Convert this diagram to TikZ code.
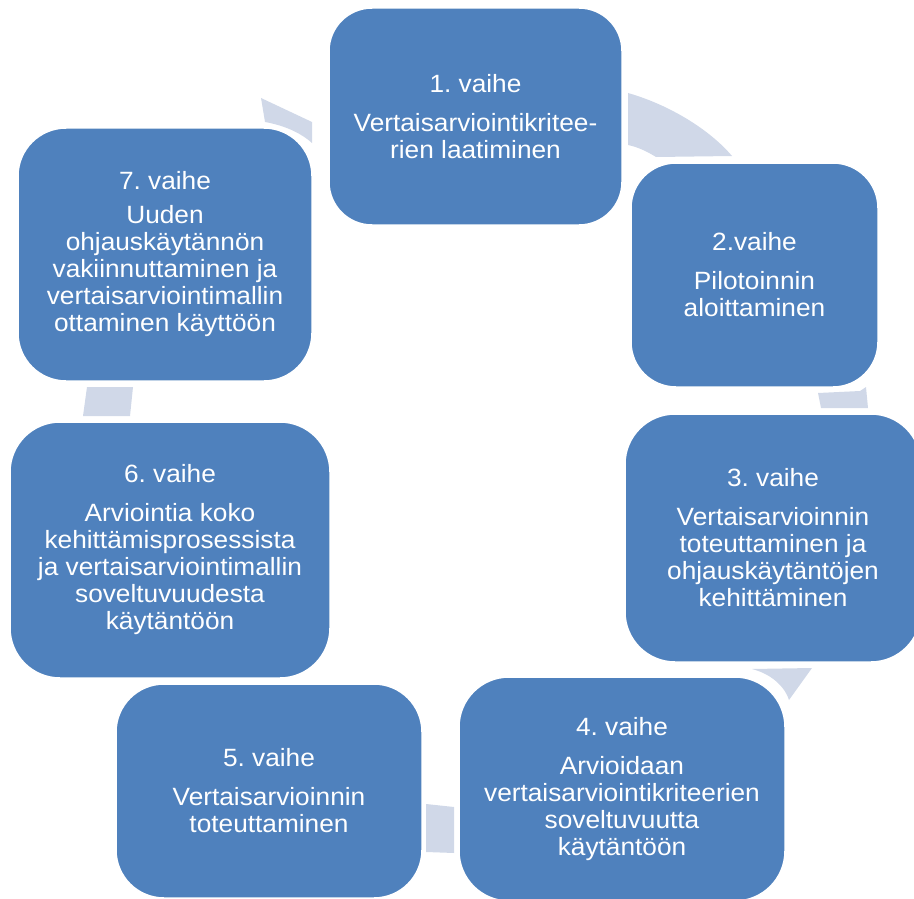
\documentclass[tikz,border=0pt]{standalone}
\usepackage{fontspec}
\setmainfont{Liberation Sans}[FakeStretch=1.05]
\definecolor{boxblue}{HTML}{4F81BD}
\definecolor{arrowgray}{HTML}{D0D8E8}
\begin{document}
\begin{tikzpicture}[x=1pt,y=-1pt,
  stage/.style={rectangle, fill=boxblue, draw=white, line width=1.5pt, text=white,
    align=center, font=\fontsize{25}{27}\selectfont\frenchspacing, inner sep=0pt},
  seg/.style={fill=arrowgray, draw=none}]
\useasboundingbox (0,0) rectangle (914,899);
% arrow segments of the cycle
\path[seg] (261,98) -- (265,122) -- (270,123) .. controls (288,127) and (302,134) .. (312,143) -- (312,122) -- cycle;
\path[seg] (628,93) .. controls (670,105) and (710,130) .. (732,156) -- (656,157) .. controls (648,152) and (638,147) .. (628,145) -- cycle;
\path[seg] (818,393) -- (860,391) -- (866,387) -- (868,408) -- (821,408) -- cycle;
\path[seg] (752,669) -- (812,668) -- (789,700) .. controls (786,690) and (775,675) .. (752,669) -- cycle;
\path[seg] (426,804) -- (454,807) -- (454,853) -- (426,852) -- cycle;
\path[seg] (87,387) -- (133,387) -- (130,416) -- (83,416) -- cycle;
% stages
\node[stage, minimum width=293pt, minimum height=217pt, rounded corners=43pt] (s1) at (475.5,116.5)
  {1. vaihe\\[12pt]Vertaisarviointikritee-\\rien laatiminen};
\node[stage, minimum width=247pt, minimum height=224pt, rounded corners=45pt] (s2) at (754.5,275)
  {2.vaihe\\[12pt]Pilotoinnin\\aloittaminen};
\node[stage, minimum width=296pt, minimum height=248pt, rounded corners=50pt] (s3) at (773,538)
  {3. vaihe\\[12pt]Vertaisarvioinnin\\toteuttaminen ja\\ohjauskäytäntöjen\\kehittäminen};
\node[stage, minimum width=326pt, minimum height=224pt, rounded corners=50pt] (s4) at (622,789)
  {4. vaihe\\[12pt]Arvioidaan\\vertaisarviointikriteerien\\soveltuvuutta\\käytäntöön};
\node[stage, minimum width=306pt, minimum height=214pt, rounded corners=48pt] (s5) at (269,791)
  {5. vaihe\\[12pt]Vertaisarvioinnin\\toteuttaminen};
\node[stage, minimum width=320pt, minimum height=256pt, rounded corners=50pt] (s6) at (170,550)
  {6. vaihe\\[12pt]Arviointia koko\\kehittämisprosessista\\ja vertaisarviointimallin\\soveltuvuudesta\\käytäntöön};
\node[stage, minimum width=294pt, minimum height=253pt, rounded corners=48pt] (s7) at (165,254.5)
  {7. vaihe\\[7pt]Uuden\\ohjauskäytännön\\vakiinnuttaminen ja\\vertaisarviointimallin\\ottaminen käyttöön};
\end{tikzpicture}
\end{document}
